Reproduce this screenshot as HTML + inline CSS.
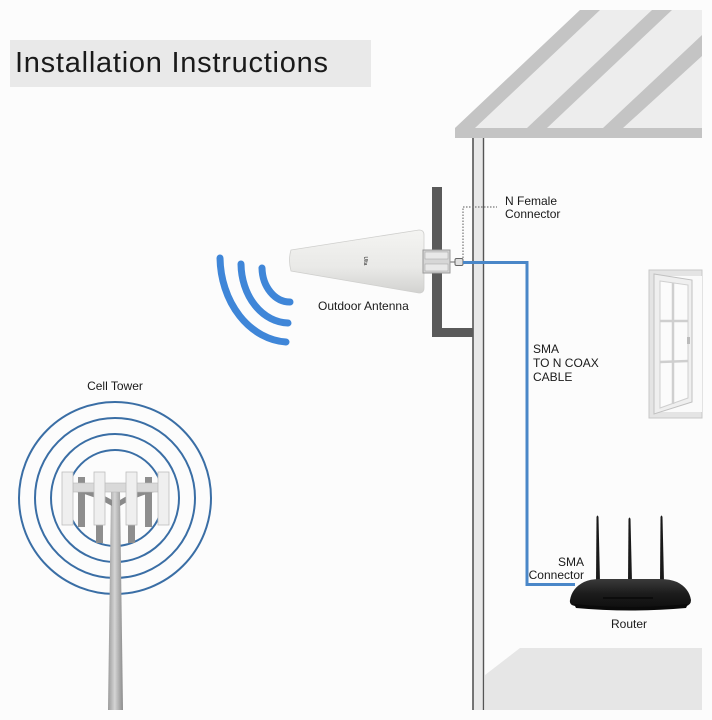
<!DOCTYPE html>
<html><head><meta charset="utf-8">
<style>
html,body{margin:0;padding:0;background:#fcfcfc;}
svg{display:block;}
text{font-family:"Liberation Sans",Arial,sans-serif;fill:#1a1a1a;}
</style></head>
<body>
<svg width="712" height="720" viewBox="0 0 712 720" xmlns="http://www.w3.org/2000/svg">
<defs>
<linearGradient id="ant" x1="0" y1="0" x2="0" y2="1">
<stop offset="0" stop-color="#f4f4f2"/><stop offset="0.6" stop-color="#e9e9e7"/><stop offset="1" stop-color="#d2d2d0"/>
</linearGradient>
<linearGradient id="pole" x1="0" y1="0" x2="1" y2="0">
<stop offset="0" stop-color="#9a9a9a"/><stop offset="0.45" stop-color="#d4d4d4"/><stop offset="1" stop-color="#8c8c8c"/>
</linearGradient>
<linearGradient id="rt" x1="0" y1="0" x2="0" y2="1">
<stop offset="0" stop-color="#3a3a3a"/><stop offset="0.5" stop-color="#1c1c1c"/><stop offset="1" stop-color="#0e0e0e"/>
</linearGradient>
</defs>
<rect width="712" height="720" fill="#fcfcfc"/>

<!-- Title -->
<rect x="10" y="40" width="361" height="47" fill="#e9e9e9"/>
<text x="15" y="72" font-size="29" letter-spacing="0.75">Installation Instructions</text>

<!-- Roof -->
<polygon points="455,128 580,10 702,10 702,128" fill="#ededed"/>
<polygon points="455,128 580,10 600,10 475,128" fill="#c4c4c4"/>
<polygon points="527,128 652,10 672,10 547,128" fill="#c4c4c4"/>
<polygon points="603,128 702,35 702,56 623,128" fill="#c4c4c4"/>
<rect x="455" y="128" width="247" height="10" fill="#c4c4c4"/>

<!-- Floor -->
<polygon points="520,648 702,648 702,710 485,710 485,675" fill="#e6e6e6"/>

<!-- Wall -->
<rect x="473" y="138" width="10" height="572" fill="#e8e8e8"/>
<line x1="473" y1="138" x2="473" y2="710" stroke="#555" stroke-width="1.6"/>
<line x1="483.5" y1="138" x2="483.5" y2="710" stroke="#555" stroke-width="1.4"/>

<!-- Window -->
<rect x="649" y="270" width="53" height="148" fill="#e4e4e4" stroke="#c8c8c8" stroke-width="1"/>
<rect x="655" y="276" width="47" height="136" fill="#fafafa"/>
<polygon points="654,274 692,280 692,402 654,414" fill="#efefef" stroke="#c0c0c0" stroke-width="1"/>
<polygon points="660,281 688,285 688,398 660,408" fill="#fbfbfb" stroke="#cfcfcf" stroke-width="1"/>
<line x1="673" y1="283" x2="673" y2="404" stroke="#cfcfcf" stroke-width="2.5"/>
<line x1="660" y1="321" x2="688" y2="321" stroke="#cfcfcf" stroke-width="2.5"/>
<line x1="660" y1="362" x2="688" y2="361" stroke="#cfcfcf" stroke-width="2.5"/>
<rect x="687" y="337" width="3" height="7" fill="#bbb"/>

<!-- Waves -->
<g fill="none" stroke="#3f86d8" stroke-width="7" stroke-linecap="round">
<path d="M220,258 A70,86 0 0 0 286,342"/>
<path d="M241,264 A48,60 0 0 0 288,323"/>
<path d="M262,268 A28,35 0 0 0 290,302"/>
</g>

<!-- Bracket -->
<rect x="432" y="187" width="10" height="150" fill="#5a5a5a"/>
<rect x="432" y="328" width="41" height="9" fill="#5a5a5a"/>

<!-- Antenna -->
<path d="M291,250 L419,230 Q424,230 424,235 L424,288 Q424,293 419,293 L291,271 Q288,260 291,250 Z" fill="url(#ant)" stroke="#cfcfcd" stroke-width="0.8"/>
<text x="0" y="0" font-size="5" fill="#9a9a9a" transform="translate(364,261) rotate(90)" text-anchor="middle">Ulta</text>

<!-- Clamp -->
<rect x="423" y="250" width="27" height="23" fill="#d6d6d6" stroke="#9a9a9a" stroke-width="1"/>
<rect x="425" y="252" width="23" height="7" fill="#e8e8e8" stroke="#aaa" stroke-width="0.6"/>
<rect x="425" y="264" width="23" height="7" fill="#e8e8e8" stroke="#aaa" stroke-width="0.6"/>
<line x1="450" y1="262" x2="456" y2="262" stroke="#999" stroke-width="1.5"/>
<rect x="455" y="258.5" width="8" height="7" rx="1.5" fill="#e0e0e0" stroke="#666" stroke-width="1"/>

<!-- Dotted leader -->
<path d="M463,258 V207 H497" fill="none" stroke="#777" stroke-width="1.2" stroke-dasharray="1.5,1.5"/>
<text x="505" y="205" font-size="12">N Female</text>
<text x="505" y="218" font-size="12">Connector</text>

<!-- Cable -->
<polyline points="463,262.5 527,262.5 527,584.5 575,584.5" fill="none" stroke="#4a87c8" stroke-width="3"/>

<text x="318" y="310" font-size="12">Outdoor Antenna</text>
<text x="533" y="353" font-size="12">SMA</text>
<text x="533" y="367" font-size="12">TO N COAX</text>
<text x="533" y="381" font-size="12">CABLE</text>

<!-- Router -->
<path d="M596,582 L596.5,517 Q597.5,514 598.5,517 L600,582 Z" fill="#1a1a1a"/>
<path d="M628,582 L628.5,519 Q629.5,516 630.5,519 L632,582 Z" fill="#1a1a1a"/>
<path d="M660,582 L660.5,517 Q661.5,514 662.5,517 L664,582 Z" fill="#1a1a1a"/>
<path d="M570,600 Q572,588 584,582 Q590,579 600,579 L660,579 Q670,579 677,582 Q689,588 691,600 Q691,605 686,606 Q630,611 575,606 Q569,605 570,600 Z" fill="url(#rt)"/>
<path d="M574,604 Q630,610 688,604 L686,608 Q630,613 576,608 Z" fill="#0a0a0a"/>
<rect x="603" y="597" width="50" height="2" fill="#0c0c0c"/>
<text x="584" y="566" font-size="12" text-anchor="end">SMA</text>
<text x="584" y="579" font-size="12" text-anchor="end">Connector</text>
<text x="629" y="628" font-size="12" text-anchor="middle">Router</text>

<!-- Cell tower -->
<text x="115" y="390" font-size="12" text-anchor="middle">Cell Tower</text>
<g fill="none" stroke="#3a6ea5" stroke-width="2">
<circle cx="115" cy="498" r="96"/>
<circle cx="115" cy="498" r="80"/>
<circle cx="115" cy="498" r="64"/>
<circle cx="115" cy="498" r="48"/>
</g>
<polygon points="111,492 120,492 123,710 108,710" fill="url(#pole)"/>
<!-- dark rear panels -->
<rect x="78" y="477" width="7" height="50" fill="#8e8e8e"/>
<rect x="145" y="477" width="7" height="50" fill="#8e8e8e"/>
<rect x="96" y="518" width="7" height="25" fill="#8e8e8e"/>
<rect x="128" y="518" width="7" height="25" fill="#8e8e8e"/>
<!-- arms -->
<path d="M73,491 Q95,496 112,506 L112,500 Q95,490 73,486 Z" fill="#8a8a8a"/>
<path d="M158,491 Q136,496 120,506 L120,500 Q136,490 158,486 Z" fill="#8a8a8a"/>
<!-- bar -->
<rect x="73" y="483" width="85" height="9" fill="#d9d9d9" stroke="#b8b8b8" stroke-width="0.6"/>
<!-- white panels -->
<g fill="#efefef" stroke="#bdbdbd" stroke-width="0.8">
<rect x="62" y="472" width="11" height="53"/>
<rect x="94" y="472" width="11" height="53"/>
<rect x="126" y="472" width="11" height="53"/>
<rect x="158" y="472" width="11" height="53"/>
</g>
</svg>
</body></html>
